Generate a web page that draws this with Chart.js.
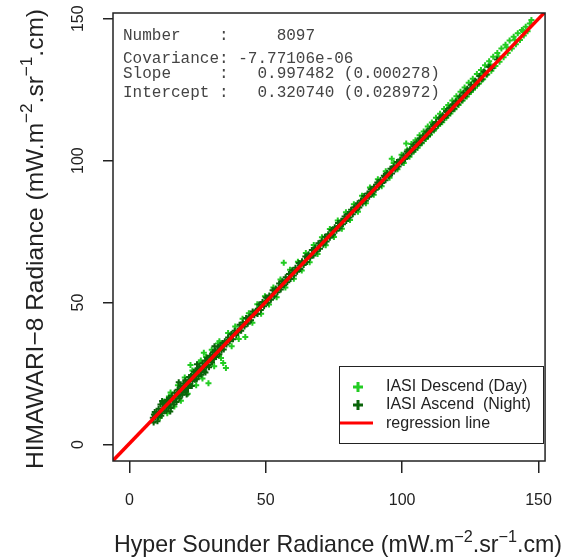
<!DOCTYPE html>
<html>
<head>
<meta charset="utf-8">
<script src="https://cdn.jsdelivr.net/npm/chart.js@4/dist/chart.umd.min.js"></script>
<style>
  body { margin: 0; background: #fff; }
  canvas { display: block; }
</style>
</head>
<body>
<canvas id="chart" width="570" height="558"></canvas>
<script>
// axis ticks
const tickValues = [0, 50, 100, 150];

// IASI Ascend (Night) - dark green
const nightX = [
  8.6, 8.9, 9.3, 9.6, 10.0, 10.3, 10.7, 11.0, 11.4, 11.7, 12.1, 12.4, 12.8, 13.1, 13.5, 13.8,
  14.2, 14.5, 14.9, 15.2, 15.6, 15.9, 16.3, 16.6, 17.0, 17.3, 17.7, 18.0, 18.4, 18.7, 19.1, 19.4,
  19.8, 20.1, 20.5, 20.8, 21.2, 21.5, 21.9, 22.2, 22.6, 22.9, 23.3, 23.6, 24.0, 24.3, 24.7, 25.0,
  25.4, 25.7, 26.1, 26.4, 26.8, 27.1, 27.5, 27.8, 28.2, 28.5, 28.9, 29.2, 29.6, 29.9, 30.3, 30.6,
  31.0, 31.4, 31.8, 32.2, 32.6, 33.0, 33.4, 33.8, 34.2, 34.6, 35.0,
  9.0, 10.5, 11.9, 13.3, 14.7, 16.1, 17.5, 18.9, 20.3, 21.7, 23.1, 24.5, 25.9, 27.3, 28.7, 30.1,
  31.6, 33.1, 34.5, 12.0, 15.0, 18.1, 21.0, 24.8, 27.9, 31.2,
  35.6, 36.2, 36.8, 37.4, 38.0, 38.6, 39.2, 39.8, 40.4, 41.0, 41.6, 42.2, 42.8, 43.4, 44.0, 44.6,
  45.2, 45.8, 46.4, 47.0, 47.6, 48.2, 48.8, 49.4, 50.0, 50.7, 51.3, 51.9, 52.5, 53.1, 53.7, 54.3,
  54.9, 55.5, 56.1, 56.7, 57.3, 57.9, 58.5, 59.1, 59.7, 60.3, 60.9, 61.5, 62.1, 62.7, 63.3, 63.9,
  64.5, 65.1, 65.7, 66.3, 66.9, 67.5, 68.1, 68.7, 69.3, 69.9, 70.5, 71.1, 71.7, 72.3, 72.9, 73.5,
  74.1, 74.7, 75.3, 75.9, 76.5, 77.1, 77.7, 78.3, 78.9, 79.5, 80.1, 80.7, 81.3, 81.9, 82.5, 83.1,
  83.7, 84.3, 84.9, 85.5, 86.1, 86.7, 87.3, 87.9, 88.5, 89.1, 89.7, 90.3, 90.9, 91.5, 92.1, 92.7,
  93.3, 93.9, 94.5, 95.1, 95.7, 96.3, 96.9, 97.5, 98.1, 98.7, 99.3,
  36.5, 37.8, 39.1, 40.4, 41.7, 43.0, 44.3, 45.6, 46.9, 48.2, 49.5, 50.8, 52.1, 53.4, 54.7, 56.0,
  57.3, 58.6, 59.9, 61.2, 62.5, 63.8, 65.1, 66.4, 67.7, 69.0, 70.3, 71.6, 72.9, 74.2, 75.5, 76.8,
  78.1, 79.4, 80.7, 82.0, 83.3, 84.6, 85.9, 87.2, 88.5, 89.8, 91.1, 92.4, 93.7, 95.0, 96.3, 97.6,
  98.9,
  99.9, 100.5, 101.1, 101.7, 102.3, 102.9, 103.5, 104.1, 104.7, 105.3, 105.9, 106.5, 107.1, 107.7,
  108.3, 108.9, 109.5, 110.1, 110.7, 111.3, 111.9, 112.5, 113.1, 113.7, 114.3, 114.9, 115.5, 116.1,
  116.7, 117.3, 117.9, 118.5, 119.1, 119.7, 120.4, 121.1, 121.8, 122.5, 123.2, 123.9, 124.6, 125.3,
  126.0, 126.8, 127.6, 128.4, 129.2, 130.0, 130.9, 131.8, 133.0,
  100.8, 102.0, 103.2, 104.4, 105.6, 106.8, 108.0, 109.2, 110.4, 111.6, 112.8, 114.0, 115.2, 116.4,
  117.6, 118.8, 120.0, 121.5, 122.8, 124.2, 125.7, 127.2, 128.8, 130.4, 132.2, 134.8
];
const nightY = [
  9.4, 7.8, 11.5, 9.7, 11.5, 8.2, 12.6, 10.5, 14.1, 10.1, 12.5, 14.3, 11.9, 13.9, 11.8, 15.8,
  13.1, 16.4, 14.2, 12.9, 17.2, 15.5, 14.1, 18.2, 16.2, 15.0, 19.3, 17.1, 16.3, 20.6, 18.3, 17.5,
  21.4, 19.0, 22.6, 18.6, 21.9, 19.9, 23.8, 21.0, 24.1, 20.6, 23.8, 25.6, 22.8, 24.9, 23.0, 26.9,
  24.1, 27.5, 25.5, 24.6, 28.6, 26.4, 25.8, 29.5, 27.4, 30.6, 28.0, 27.2, 31.3, 29.6, 28.9, 32.5,
  30.2, 33.1, 30.8, 32.9, 34.4, 31.8, 34.9, 33.2, 35.8, 33.5, 36.4,
  10.6, 9.6, 11.0, 14.6, 15.9, 15.2, 17.9, 19.8, 20.2, 22.5, 22.4, 26.0, 26.8, 27.4, 29.8, 31.0,
  31.5, 33.9, 34.8, 15.3, 11.6, 21.9, 17.6, 28.3, 25.4, 34.6,
  35.2, 37.7, 36.4, 38.9, 37.1, 40.1, 38.6, 39.5, 42.2, 40.1, 43.0, 41.6, 44.6, 42.5, 45.1, 43.8,
  46.9, 45.5, 47.1, 46.0, 49.3, 47.4, 50.2, 48.7, 51.8, 49.9, 52.5, 51.0, 54.3, 52.2, 55.0, 53.6,
  56.7, 54.6, 57.5, 56.1, 58.9, 57.2, 60.1, 58.3, 61.4, 59.5, 62.3, 60.9, 63.9, 61.8, 64.6, 63.2,
  66.2, 64.3, 67.0, 65.8, 68.5, 66.6, 69.3, 68.0, 70.9, 69.0, 71.8, 70.4, 73.2, 71.5, 74.1, 72.8,
  75.6, 73.9, 76.5, 75.3, 78.0, 76.2, 78.8, 77.6, 80.3, 78.7, 81.2, 80.0, 82.7, 81.1, 83.6, 82.5,
  85.0, 83.5, 86.0, 84.9, 87.5, 85.9, 88.4, 87.3, 89.9, 88.3, 90.8, 89.7, 92.3, 90.8, 93.2, 92.1,
  94.7, 93.1, 95.6, 94.5, 97.1, 95.5, 98.0, 96.9, 99.5, 97.9, 100.4,
  36.9, 38.5, 39.4, 40.8, 42.3, 43.2, 45.0, 45.8, 47.5, 48.6, 49.9, 51.4, 52.3, 54.0, 55.1, 56.2,
  57.9, 58.8, 60.5, 61.4, 63.1, 64.0, 65.7, 66.5, 68.2, 69.1, 70.9, 71.8, 73.4, 74.3, 76.0, 77.0,
  78.7, 79.6, 81.2, 82.1, 83.9, 84.8, 86.4, 87.4, 89.0, 89.9, 91.7, 92.5, 94.2, 95.1, 96.9, 97.7,
  99.4,
  99.3, 101.8, 100.6, 103.2, 101.6, 104.0, 102.9, 105.6, 103.9, 106.5, 105.3, 107.9, 106.4, 108.8,
  107.8, 110.3, 108.7, 111.2, 110.2, 112.7, 111.2, 113.6, 112.6, 115.1, 113.6, 116.0, 115.0, 117.5,
  116.0, 118.5, 117.4, 119.9, 118.4, 120.9, 119.9, 122.6, 121.2, 123.9, 122.7, 125.3, 124.1, 126.7,
  125.4, 128.1, 127.0, 129.8, 128.6, 131.4, 130.3, 133.1, 132.5,
  101.0, 102.6, 103.4, 104.9, 105.7, 107.3, 108.1, 109.8, 110.5, 112.2, 112.9, 114.6, 115.3, 117.0,
  117.7, 119.4, 120.2, 122.0, 123.0, 124.8, 125.9, 127.8, 129.0, 131.0, 132.9, 135.6
];

// IASI Descend (Day) - light green
const dayX = [
  9.5, 11.2, 12.6, 13.9, 15.1, 16.5, 17.8, 18.9, 20.3, 21.4, 22.4, 23.1, 24.5, 25.6, 26.8, 27.3,
  28.1, 29.0, 30.2, 31.1, 32.5, 33.6, 34.4, 35.4, 36.2, 37.5, 38.8, 40.1, 41.5, 42.5,
  14.5, 19.6, 24.0, 26.2, 30.8, 33.0,
  43.8, 45.1, 46.9, 48.3, 49.7, 51.2, 52.8, 54.0, 55.4, 56.6, 57.2, 58.9, 60.3, 61.8, 63.2, 64.7,
  66.1, 67.6, 69.0, 70.6, 72.0, 73.5, 75.0, 76.4, 77.9, 79.4, 80.9, 82.3, 83.8, 85.3, 86.7, 88.2,
  89.6, 91.1, 92.5, 94.0, 95.4, 96.2, 96.9, 98.3, 99.8,
  100.6, 101.5, 101.9, 102.7, 103.4, 104.2, 104.9, 105.7, 106.4, 107.2, 107.9, 108.7, 109.4, 110.2,
  110.9, 111.7, 112.4, 113.2, 113.9, 114.7, 115.4, 116.2, 116.9, 117.7, 118.4, 119.2, 119.9, 120.7,
  121.4, 122.2, 122.9, 123.7, 124.4, 125.2, 125.9, 126.7, 127.4, 128.2, 128.9, 129.7, 130.4, 131.2,
  131.9, 132.7, 133.4, 134.2, 134.9, 135.7, 136.4, 137.2, 137.9, 138.7, 139.4, 140.2, 140.9, 141.7,
  142.4, 143.2, 143.9, 144.6, 145.3, 146.0, 146.8, 147.4,
  105.3, 108.3, 111.3, 114.3, 117.3, 120.3, 123.3, 126.3, 129.3, 132.3, 135.3, 138.3, 141.3, 144.3
];
const dayY = [
  10.8, 9.4, 15.1, 11.0, 18.3, 13.4, 20.9, 15.4, 23.6, 17.9, 28.0, 26.1, 20.9, 28.9, 23.3, 32.3,
  30.8, 21.6, 33.4, 27.6, 35.6, 30.5, 28.7, 27.0, 39.3, 34.6, 41.6, 37.2, 44.3, 37.9,
  16.9, 18.3, 25.7, 29.6, 30.0, 36.4,
  46.2, 42.9, 49.4, 46.1, 52.2, 49.3, 55.3, 51.9, 58.1, 64.0, 55.3, 61.6, 58.4, 64.4, 61.3, 67.5,
  64.2, 70.3, 67.1, 73.0, 70.2, 75.9, 73.1, 78.9, 76.0, 81.8, 79.1, 84.6, 82.0, 87.6, 85.0, 90.5,
  88.0, 93.4, 91.0, 96.3, 94.0, 100.7, 99.2, 97.0, 102.1,
  99.2, 106.0, 103.8, 101.4, 105.9, 103.1, 107.2, 104.5, 108.9, 106.1, 110.3, 107.6, 112.0, 109.1,
  113.4, 110.6, 115.1, 112.2, 116.5, 113.5, 118.2, 115.1, 119.6, 116.6, 121.2, 118.1, 122.7, 119.6,
  124.3, 121.2, 125.8, 122.6, 127.4, 124.2, 128.8, 125.7, 130.5, 127.2, 131.9, 128.7, 133.6, 130.3,
  135.0, 131.7, 136.6, 133.3, 137.9, 134.8, 139.5, 136.4, 140.8, 137.9, 142.3, 139.5, 143.6, 141.0,
  144.9, 142.5, 146.0, 144.1, 147.2, 145.6, 148.3, 149.5,
  106.8, 109.4, 112.7, 115.4, 118.9, 121.5, 124.6, 127.9, 130.6, 133.9, 136.7, 139.9, 142.6, 145.7
];

// regression line end points (from slope / intercept in the box)
const regX = [-6, 152.4];
const regY = [-5.66, 152.34];

const statLines = [
  "Number    :     8097",
  "Covariance: -7.77106e-06",
  "Slope     :   0.997482 (0.000278)",
  "Intercept :   0.320740 (0.028972)"
];

const toPoints = (xs, ys) => xs.map((x, i) => ({ x: x, y: ys[i] }));

const DAY = "#22cc22";
const NIGHT = "#0a640a";
const INK = "#222";
const SANS = "'Liberation Sans', Arial, sans-serif";

// text with superscripts, centered on x
function drawRich(ctx, parts, x, y, size) {
  const widths = parts.map(p => {
    ctx.font = (p.sup ? size * 0.7 : size) + "px " + SANS;
    return ctx.measureText(p.t).width;
  });
  let cx = x - widths.reduce((a, b) => a + b, 0) / 2;
  ctx.textAlign = "left";
  ctx.textBaseline = "alphabetic";
  parts.forEach((p, i) => {
    ctx.font = (p.sup ? size * 0.7 : size) + "px " + SANS;
    ctx.fillText(p.t, cx, p.sup ? y - size * 0.45 : y);
    cx += widths[i];
  });
}

const decorations = {
  id: "decorations",
  afterDraw(chart) {
    const { ctx, chartArea: a, scales } = chart;
    ctx.save();

    // plot frame
    ctx.strokeStyle = INK;
    ctx.lineWidth = 1.5;
    ctx.strokeRect(a.left, a.top, a.right - a.left, a.bottom - a.top);

    // rotated y tick labels
    ctx.fillStyle = INK;
    ctx.font = "16px " + SANS;
    ctx.textAlign = "center";
    ctx.textBaseline = "alphabetic";
    scales.y.ticks.forEach(t => {
      const py = scales.y.getPixelForValue(t.value);
      ctx.save();
      ctx.translate(83, py);
      ctx.rotate(-Math.PI / 2);
      ctx.fillText(String(t.value), 0, 0);
      ctx.restore();
    });

    // axis titles
    drawRich(ctx, [
      { t: "Hyper Sounder Radiance (mW.m" }, { t: "\u22122", sup: true },
      { t: ".sr" }, { t: "\u22121", sup: true }, { t: ".cm)" }
    ], (a.left + a.right) / 2 + 9, 552, 23.2);

    ctx.save();
    ctx.translate(43, (a.top + a.bottom) / 2 + 2);
    ctx.rotate(-Math.PI / 2);
    drawRich(ctx, [
      { t: "HIMAWARI\u22128 Radiance (mW.m" }, { t: "\u22122", sup: true },
      { t: ".sr" }, { t: "\u22121", sup: true }, { t: ".cm)" }
    ], 0, 0, 24.5);
    ctx.restore();

    // statistics text
    ctx.fillStyle = "#444";
    ctx.font = "16px 'Liberation Mono', monospace";
    ctx.textAlign = "left";
    ctx.textBaseline = "alphabetic";
    [40, 63, 78, 97].forEach((y, i) => ctx.fillText(statLines[i], 123, y));

    // legend
    ctx.strokeStyle = INK;
    ctx.lineWidth = 1;
    ctx.strokeRect(339.5, 366.5, 204, 77);
    ctx.lineWidth = 3;
    [[387, DAY], [405, NIGHT]].forEach(([y, c]) => {
      ctx.strokeStyle = c;
      ctx.beginPath();
      ctx.moveTo(353, y); ctx.lineTo(363, y);
      ctx.moveTo(358, y - 5); ctx.lineTo(358, y + 5);
      ctx.stroke();
    });
    ctx.strokeStyle = "#ff0000";
    ctx.beginPath();
    ctx.moveTo(340, 423); ctx.lineTo(373, 423);
    ctx.stroke();
    ctx.fillStyle = INK;
    ctx.font = "16px " + SANS;
    ctx.textBaseline = "middle";
    ctx.fillText("IASI Descend (Day)", 386, 387);
    ctx.fillText("IASI Ascend  (Night)", 386, 405);
    ctx.fillText("regression line", 386, 424);

    ctx.restore();
  }
};

const axisBase = {
  type: "linear",
  afterBuildTicks: scale => { scale.ticks = tickValues.map(v => ({ value: v })); },
  border: { display: false },
  grid: { drawOnChartArea: false, drawTicks: true, color: INK, lineWidth: 1.5 }
};

new Chart(document.getElementById("chart"), {
  type: "scatter",
  data: {
    datasets: [
      {
        label: "regression line",
        data: toPoints(regX, regY),
        showLine: true,
        borderColor: "#ff0000",
        borderWidth: 3.5,
        pointRadius: 0,
        order: 0
      },
      {
        label: "IASI Ascend  (Night)",
        data: toPoints(nightX, nightY),
        pointStyle: "cross",
        pointRadius: 3,
        borderColor: NIGHT,
        borderWidth: 2,
        order: 1
      },
      {
        label: "IASI Descend (Day)",
        data: toPoints(dayX, dayY),
        pointStyle: "cross",
        pointRadius: 3,
        borderColor: DAY,
        borderWidth: 2,
        order: 2
      }
    ]
  },
  options: {
    responsive: false,
    animation: false,
    events: [],
    layout: { padding: { top: 13, right: 9, left: 0, bottom: 0 } },
    plugins: { legend: { display: false }, tooltip: { enabled: false } },
    scales: {
      x: {
        ...axisBase,
        min: -6,
        max: 152.4,
        afterFit: scale => { scale.height = 97; },
        grid: { ...axisBase.grid, tickLength: 12 },
        ticks: { color: INK, font: { family: SANS, size: 16 }, padding: 18, maxRotation: 0 }
      },
      y: {
        ...axisBase,
        min: -5.8,
        max: 152,
        afterFit: scale => { scale.width = 113; },
        grid: { ...axisBase.grid, tickLength: 10 },
        ticks: { display: false }
      }
    }
  },
  plugins: [decorations]
});
</script>
</body>
</html>
